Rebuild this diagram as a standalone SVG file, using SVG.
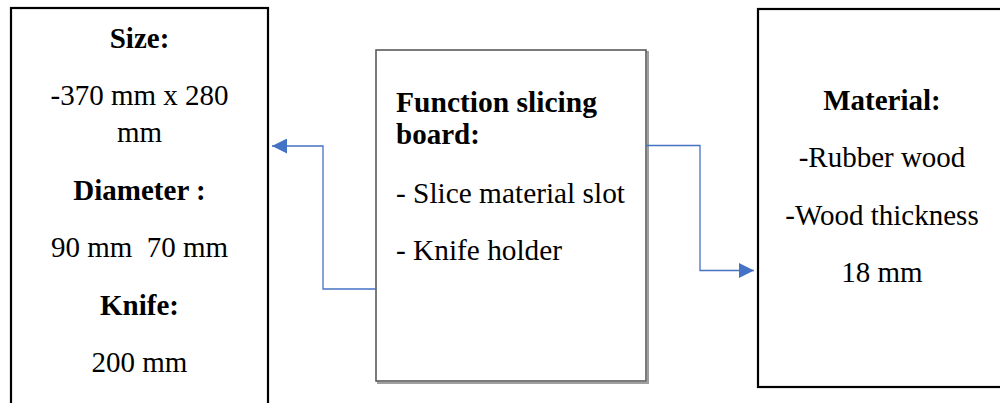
<svg xmlns="http://www.w3.org/2000/svg" width="1000" height="403" viewBox="0 0 1000 403">
  <defs>
    <style>
      .box { fill: #ffffff; stroke: #000000; stroke-width: 2.2; }
      .mid { fill: #ffffff; stroke: #5a5a5a; stroke-width: 1.6; }
      .shadow { fill: none; stroke: #a0a0a0; stroke-width: 2; }
      .t { font-family: "Liberation Serif", "Times New Roman", serif; font-size: 29px; fill: #000000; }
      .c { text-anchor: middle; }
      .b { font-weight: bold; }
      .conn { fill: none; stroke: #4472c4; stroke-width: 1.3; }
    </style>
    <marker id="arrow" viewBox="0 0 10 10" refX="10" refY="5" markerUnits="userSpaceOnUse" markerWidth="15" markerHeight="15" orient="auto">
      <path d="M0,0 L10,5 L0,10 Z" fill="#4472c4"/>
    </marker>
  </defs>
  <rect width="1000" height="403" fill="#ffffff"/>

  <g id="node-size">
    <rect class="box" x="11" y="8" width="257" height="405"/>
    <text class="t c b" x="139.5" y="48">Size:</text>
    <text class="t c" x="139.5" y="105">-370 mm x 280</text>
    <text class="t c" x="139.5" y="142">mm</text>
    <text class="t c b" x="139.5" y="200">Diameter :</text>
    <text class="t c" x="139.5" y="257" xml:space="preserve">90 mm  70 mm</text>
    <text class="t c b" x="139.5" y="315">Knife:</text>
    <text class="t c" x="139.5" y="372">200 mm</text>
  </g>

  <g id="node-function">
    <rect class="shadow" x="378" y="52" width="270" height="331"/>
    <rect class="mid" x="376" y="50" width="270" height="331"/>
    <text class="t b" x="396" y="112" textLength="201" lengthAdjust="spacingAndGlyphs">Function slicing</text>
    <text class="t b" x="396" y="144">board:</text>
    <text class="t" x="396" y="203" textLength="229" lengthAdjust="spacingAndGlyphs">- Slice material slot</text>
    <text class="t" x="396" y="260" textLength="166" lengthAdjust="spacingAndGlyphs">- Knife holder</text>
  </g>

  <g id="node-material">
    <rect class="box" x="758" y="9" width="252" height="378"/>
    <text class="t c b" x="882" y="110">Material:</text>
    <text class="t c" x="882" y="167">-Rubber wood</text>
    <text class="t c" x="882" y="225">-Wood thickness</text>
    <text class="t c" x="882" y="282">18 mm</text>
  </g>

  <g id="connectors">
    <path class="conn" d="M376,289 H323 V146 H272" marker-end="url(#arrow)"/>
    <path class="conn" d="M646,145.5 H700 V270.5 H754" marker-end="url(#arrow)"/>
  </g>
</svg>
